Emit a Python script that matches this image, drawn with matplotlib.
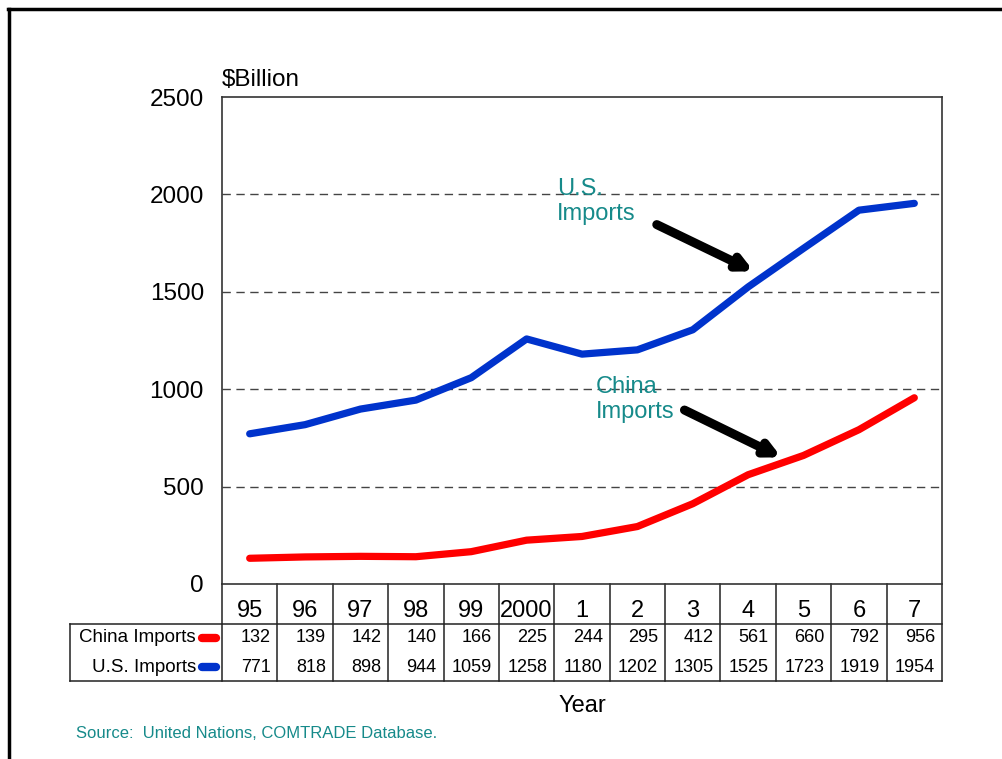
import numpy as np
import matplotlib
matplotlib.use('Agg')
import matplotlib.pyplot as plt
from matplotlib import transforms
from matplotlib.lines import Line2D

plt.rcParams['font.family'] = ['Liberation Sans', 'DejaVu Sans']

# data
years = ['95', '96', '97', '98', '99', '2000', '1', '2', '3', '4', '5', '6', '7']
china = [132, 139, 142, 140, 166, 225, 244, 295, 412, 561, 660, 792, 956]
us = [771, 818, 898, 944, 1059, 1258, 1180, 1202, 1305, 1525, 1723, 1919, 1954]
series_names = ['China Imports', 'U.S. Imports']
yticks = [0, 500, 1000, 1500, 2000, 2500]

W, H = 1003, 759
fig = plt.figure(figsize=(W / 100, H / 100), dpi=100)
ax = fig.add_axes([222 / W, 1 - 584 / H, 720 / W, 487 / H])

def fy(py):
    return 1 - py / H

def fx(px):
    return px / W

teal = '#168a8a'
red = '#ff0000'
blue = '#0033cc'

x = np.arange(len(years))
ax.plot(x, us, color=blue, lw=5.2, solid_capstyle='round', solid_joinstyle='round', zorder=3)
ax.plot(x, china, color=red, lw=5.2, solid_capstyle='round', solid_joinstyle='round', zorder=3)

ax.set_xlim(-0.5, len(years) - 0.5)
ax.set_ylim(0, 2500)
ax.set_yticks(yticks)
ax.set_yticklabels([str(v) for v in yticks], fontsize=17.5)
ax.tick_params(axis='y', length=0, pad=13)
ax.set_xticks([])
for v in yticks[1:-1]:
    ax.axhline(v, color='#444444', lw=1, ls=(0, (6, 4)), zorder=1)
for s in ax.spines.values():
    s.set_linewidth(1.2)
    s.set_color('#333333')

ax.text(0, fy(86), '$Billion', transform=transforms.blended_transform_factory(ax.transAxes, fig.transFigure),
        fontsize=17.5, ha='left', va='baseline')

# annotations
ax.text(5.55, 2085, 'U.S.\nImports', color=teal, fontsize=17, ha='left', va='top', linespacing=1.2)
ax.annotate('', xy=(9.1, 1605), xytext=(7.35, 1845),
            arrowprops=dict(arrowstyle='-|>,head_length=0.8,head_width=0.4', color='black', lw=6.5,
                            shrinkA=0, shrinkB=0))
ax.text(6.25, 1068, 'China\nImports', color=teal, fontsize=17, ha='left', va='top', linespacing=1.2)
ax.annotate('', xy=(9.6, 650), xytext=(7.85, 893),
            arrowprops=dict(arrowstyle='-|>,head_length=0.8,head_width=0.4', color='black', lw=6.5,
                            shrinkA=0, shrinkB=0))

# data table below the axis
bt = transforms.blended_transform_factory(ax.transData, fig.transFigure)
lkw = dict(color='#222222', lw=1.1, clip_on=False)
for k in range(len(years) + 1):
    ax.add_line(Line2D([k - 0.5, k - 0.5], [fy(584), fy(681)], transform=bt, **lkw))
x_left = (70 - 222) / 720 * len(years) - 0.5
for py in (624, 681):
    ax.add_line(Line2D([x_left, len(years) - 0.5], [fy(py), fy(py)], transform=bt, **lkw))
ax.add_line(Line2D([x_left, x_left], [fy(624), fy(681)], transform=bt, **lkw))

for i, y in enumerate(years):
    ax.text(i, fy(611), y, transform=bt, fontsize=17, ha='center', va='center')
dx = 7 / 720 * len(years)
for i in range(len(years)):
    ax.text(i + 0.5 - dx, fy(638), str(china[i]), transform=bt, fontsize=13, ha='right', va='center')
    ax.text(i + 0.5 - dx, fy(667), str(us[i]), transform=bt, fontsize=13, ha='right', va='center')

for name, col, py in zip(series_names, [red, blue], [638, 667]):
    fig.text(fx(196), fy(py), name, fontsize=13.5, ha='right', va='center')
    fig.add_artist(Line2D([fx(202), fx(216)], [fy(py), fy(py)], color=col, lw=6, solid_capstyle='round'))

fig.text(fx(582), fy(706), 'Year', fontsize=17, ha='center', va='center')
fig.text(fx(76), fy(733), 'Source:  United Nations, COMTRADE Database.', color=teal, fontsize=12,
         ha='left', va='center')

# outer frame
fig.add_artist(Line2D([fx(9.5), fx(9.5)], [fy(8.5), 0], color='black', lw=2.5))
fig.add_artist(Line2D([fx(8), 1], [fy(8.5), fy(8.5)], color='black', lw=2.5))

fig.savefig('out.png', dpi=100)
